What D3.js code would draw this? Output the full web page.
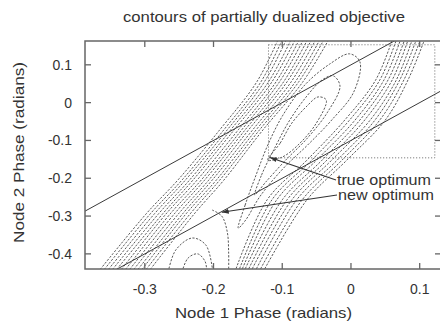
<!DOCTYPE html>
<html>
<head>
<meta charset="utf-8">
<script src="https://cdn.jsdelivr.net/npm/d3@7"></script>
<style>
body { margin: 0; background: #fff; }
svg { display: block; font-family: "Liberation Sans", Arial, sans-serif; }
</style>
</head>
<body>
<div id="chart"></div>
<script>
// tick values
var xTicks = [-0.3, -0.2, -0.1, 0, 0.1];
var yTicks = [0.1, 0, -0.1, -0.2, -0.3, -0.4];

// constraint lines: theta2 = theta1 + offset
var lineOffsets = [0.1, -0.1];

// dotted box corners
var boxX = [-0.12, 0.122];
var boxY = [-0.146, 0.153];

// optimum points (arrow tips)
var trueOptimum = [-0.118, -0.145];
var newOptimum = [-0.188, -0.29];

// dense contours, upper-left side of the valley
var leftBand = [
    [[-0.368,-0.448],[-0.297,-0.292],[-0.252,-0.205],[-0.191,-0.072],[-0.137,0.055],[-0.105,0.171]],
    [[-0.362,-0.448],[-0.291,-0.292],[-0.246,-0.205],[-0.185,-0.072],[-0.131,0.055],[-0.099,0.171]],
    [[-0.356,-0.448],[-0.285,-0.292],[-0.241,-0.205],[-0.180,-0.072],[-0.126,0.055],[-0.093,0.171]],
    [[-0.350,-0.448],[-0.279,-0.292],[-0.235,-0.205],[-0.175,-0.072],[-0.120,0.055],[-0.086,0.171]],
    [[-0.344,-0.448],[-0.273,-0.292],[-0.230,-0.205],[-0.170,-0.072],[-0.115,0.055],[-0.080,0.171]],
    [[-0.337,-0.448],[-0.268,-0.292],[-0.224,-0.205],[-0.164,-0.072],[-0.109,0.055],[-0.074,0.171]],
    [[-0.331,-0.448],[-0.262,-0.292],[-0.218,-0.205],[-0.159,-0.072],[-0.104,0.055],[-0.068,0.171]],
    [[-0.325,-0.448],[-0.256,-0.292],[-0.213,-0.205],[-0.154,-0.072],[-0.098,0.055],[-0.062,0.171]],
    [[-0.319,-0.448],[-0.250,-0.292],[-0.207,-0.205],[-0.149,-0.072],[-0.093,0.055],[-0.056,0.171]],
    [[-0.313,-0.448],[-0.244,-0.292],[-0.202,-0.205],[-0.143,-0.072],[-0.087,0.055],[-0.050,0.171]],
    [[-0.307,-0.448],[-0.239,-0.292],[-0.196,-0.205],[-0.138,-0.072],[-0.081,0.055],[-0.044,0.171]],
    [[-0.301,-0.448],[-0.233,-0.292],[-0.191,-0.205],[-0.133,-0.072],[-0.076,0.055],[-0.038,0.171]],
    [[-0.295,-0.448],[-0.227,-0.292],[-0.185,-0.205],[-0.128,-0.072],[-0.070,0.055],[-0.031,0.171]]
];

// dense contours, lower-right side of the valley
var rightBand = [
    [[-0.128,-0.448],[-0.064,-0.257],[-0.006,-0.152],[0.050,-0.046],[0.083,0.060],[0.108,0.171]],
    [[-0.134,-0.448],[-0.071,-0.257],[-0.013,-0.152],[0.042,-0.046],[0.077,0.060],[0.102,0.171]],
    [[-0.140,-0.448],[-0.079,-0.257],[-0.020,-0.152],[0.035,-0.046],[0.071,0.060],[0.096,0.171]],
    [[-0.146,-0.448],[-0.086,-0.257],[-0.028,-0.152],[0.028,-0.046],[0.066,0.060],[0.090,0.171]],
    [[-0.151,-0.448],[-0.093,-0.257],[-0.035,-0.152],[0.020,-0.046],[0.060,0.060],[0.084,0.171]],
    [[-0.156,-0.448],[-0.100,-0.257],[-0.042,-0.152],[0.013,-0.046],[0.054,0.060],[0.079,0.171]],
    [[-0.160,-0.448],[-0.108,-0.257],[-0.050,-0.152],[0.006,-0.046],[0.048,0.060],[0.073,0.171]],
    [[-0.164,-0.448],[-0.115,-0.257],[-0.057,-0.152],[-0.002,-0.046],[0.042,0.060],[0.067,0.171]],
    [[-0.169,-0.448],[-0.122,-0.257],[-0.064,-0.152],[-0.009,-0.046],[0.036,0.060],[0.061,0.171]]
];

// closed contours round the upper minimum
var innerContours = [
    [[-0.121,-0.152],[-0.103,-0.107],[-0.086,-0.054],[-0.064,-0.009],[-0.048,0.015],[-0.036,0.007],[-0.051,-0.056],[-0.077,-0.112],[-0.100,-0.144]],
    [[-0.140,-0.244],[-0.130,-0.191],[-0.111,-0.120],[-0.089,-0.046],[-0.063,0.020],[-0.042,0.060],[-0.026,0.071],[-0.016,0.044],[-0.034,-0.025],[-0.063,-0.093],[-0.095,-0.152],[-0.124,-0.210]],
    [[-0.164,-0.332],[-0.154,-0.271],[-0.138,-0.191],[-0.121,-0.112],[-0.099,-0.033],[-0.067,0.047],[-0.031,0.102],[-0.002,0.129],[0.013,0.108],[0.004,0.028],[-0.028,-0.046],[-0.063,-0.112],[-0.098,-0.173],[-0.132,-0.247],[-0.153,-0.310]]
];

// contours near the lower minimum and the saddle
var lowerContours = [
    [[-0.266,-0.448],[-0.255,-0.390],[-0.231,-0.358],[-0.211,-0.377],[-0.201,-0.448]],
    [[-0.246,-0.448],[-0.237,-0.411],[-0.223,-0.400],[-0.212,-0.421],[-0.210,-0.448]],
    [[-0.202,-0.284],[-0.188,-0.300],[-0.180,-0.342],[-0.178,-0.395],[-0.178,-0.448]]
];

var plot = { left: 85, right: 441, top: 41, bottom: 269 };

var svg = d3.select("#chart").append("svg")
    .attr("width", 440)
    .attr("height", 324);

var x = d3.scaleLinear().domain([-0.387, 0.131]).range([plot.left, plot.right]);
var y = d3.scaleLinear().domain([-0.44, 0.163]).range([plot.bottom, plot.top]);

var defs = svg.append("defs");
defs.append("clipPath").attr("id", "clip")
    .append("rect")
    .attr("x", plot.left).attr("y", plot.top)
    .attr("width", plot.right - plot.left).attr("height", plot.bottom - plot.top);

defs.append("marker")
    .attr("id", "arrow")
    .attr("viewBox", "0 0 10 10")
    .attr("refX", 10).attr("refY", 5)
    .attr("markerWidth", 7).attr("markerHeight", 7)
    .attr("markerUnits", "userSpaceOnUse")
    .attr("orient", "auto")
    .append("path")
    .attr("d", "M0,1.5 L10,5 L0,8.5 Z")
    .attr("fill", "#333");

var g = svg.append("g").attr("clip-path", "url(#clip)");

var openLine = d3.line()
    .x(function(d) { return x(d[0]); })
    .y(function(d) { return y(d[1]); })
    .curve(d3.curveCatmullRom);

var closedLine = d3.line()
    .x(function(d) { return x(d[0]); })
    .y(function(d) { return y(d[1]); })
    .curve(d3.curveCatmullRomClosed);

function drawContours(set, gen) {
    g.selectAll(null)
        .data(set)
        .enter()
        .append("path")
        .attr("d", gen)
        .attr("fill", "none")
        .attr("stroke", "#595959")
        .attr("stroke-width", 1)
        .attr("stroke-dasharray", "2.2,1.5");
}
drawContours(leftBand, openLine);
drawContours(rightBand, openLine);
drawContours(lowerContours, openLine);
drawContours(innerContours, closedLine);

// dotted box
g.append("rect")
    .attr("x", x(boxX[0]))
    .attr("y", y(boxY[1]))
    .attr("width", x(boxX[1]) - x(boxX[0]))
    .attr("height", y(boxY[0]) - y(boxY[1]))
    .attr("fill", "none")
    .attr("stroke", "#666")
    .attr("stroke-width", 1)
    .attr("stroke-dasharray", "1,2");

// constraint lines
g.selectAll(".constraint")
    .data(lineOffsets)
    .enter()
    .append("line")
    .attr("class", "constraint")
    .attr("x1", x(-0.387))
    .attr("y1", function(d) { return y(-0.387 + d); })
    .attr("x2", x(0.131))
    .attr("y2", function(d) { return y(0.131 + d); })
    .attr("stroke", "#3a3a3a")
    .attr("stroke-width", 1);

// frame
svg.append("rect")
    .attr("x", plot.left).attr("y", plot.top)
    .attr("width", plot.right - plot.left).attr("height", plot.bottom - plot.top)
    .attr("fill", "none")
    .attr("stroke", "#666")
    .attr("stroke-width", 1.5);

// ticks, pointing inward on all four sides
xTicks.forEach(function(t) {
    svg.append("line").attr("x1", x(t)).attr("x2", x(t)).attr("y1", plot.bottom).attr("y2", plot.bottom - 6)
        .attr("stroke", "#666").attr("stroke-width", 1.3);
    svg.append("line").attr("x1", x(t)).attr("x2", x(t)).attr("y1", plot.top).attr("y2", plot.top + 6)
        .attr("stroke", "#666").attr("stroke-width", 1.3);
    svg.append("text").attr("x", x(t)).attr("y", 293.5)
        .attr("text-anchor", "middle").attr("font-size", 14).attr("fill", "#333")
        .text(t);
});
yTicks.forEach(function(t) {
    svg.append("line").attr("x1", plot.left).attr("x2", plot.left + 6).attr("y1", y(t)).attr("y2", y(t))
        .attr("stroke", "#666").attr("stroke-width", 1.3);
    svg.append("line").attr("x1", plot.right).attr("x2", plot.right - 6).attr("y1", y(t)).attr("y2", y(t))
        .attr("stroke", "#666").attr("stroke-width", 1.3);
    svg.append("text").attr("x", 72).attr("y", y(t) + 5)
        .attr("text-anchor", "end").attr("font-size", 14).attr("fill", "#333")
        .text(t);
});

// annotations
svg.append("text").attr("x", 337).attr("y", 185).attr("font-size", 14.5).attr("fill", "#333")
    .attr("textLength", 94).attr("lengthAdjust", "spacingAndGlyphs").text("true optimum");
svg.append("text").attr("x", 338).attr("y", 199.5).attr("font-size", 14.5).attr("fill", "#333")
    .attr("textLength", 96).attr("lengthAdjust", "spacingAndGlyphs").text("new optimum");
svg.append("line")
    .attr("x1", 336).attr("y1", 180).attr("x2", x(trueOptimum[0])).attr("y2", y(trueOptimum[1]))
    .attr("stroke", "#333").attr("stroke-width", 1.1).attr("marker-end", "url(#arrow)");
svg.append("line")
    .attr("x1", 337).attr("y1", 195).attr("x2", x(newOptimum[0])).attr("y2", y(newOptimum[1]))
    .attr("stroke", "#333").attr("stroke-width", 1.1).attr("marker-end", "url(#arrow)");

// titles
svg.append("text").attr("x", 123).attr("y", 21.5)
    .attr("font-size", 15).attr("fill", "#333")
    .attr("textLength", 282).attr("lengthAdjust", "spacingAndGlyphs")
    .text("contours of partially dualized objective");
svg.append("text").attr("x", 175).attr("y", 318)
    .attr("font-size", 15).attr("fill", "#333")
    .attr("textLength", 177).attr("lengthAdjust", "spacingAndGlyphs")
    .text("Node 1 Phase (radians)");
svg.append("text")
    .attr("transform", "translate(24,243) rotate(-90)")
    .attr("font-size", 15).attr("fill", "#333")
    .attr("textLength", 181).attr("lengthAdjust", "spacingAndGlyphs")
    .text("Node 2 Phase (radians)");
</script>
</body>
</html>
